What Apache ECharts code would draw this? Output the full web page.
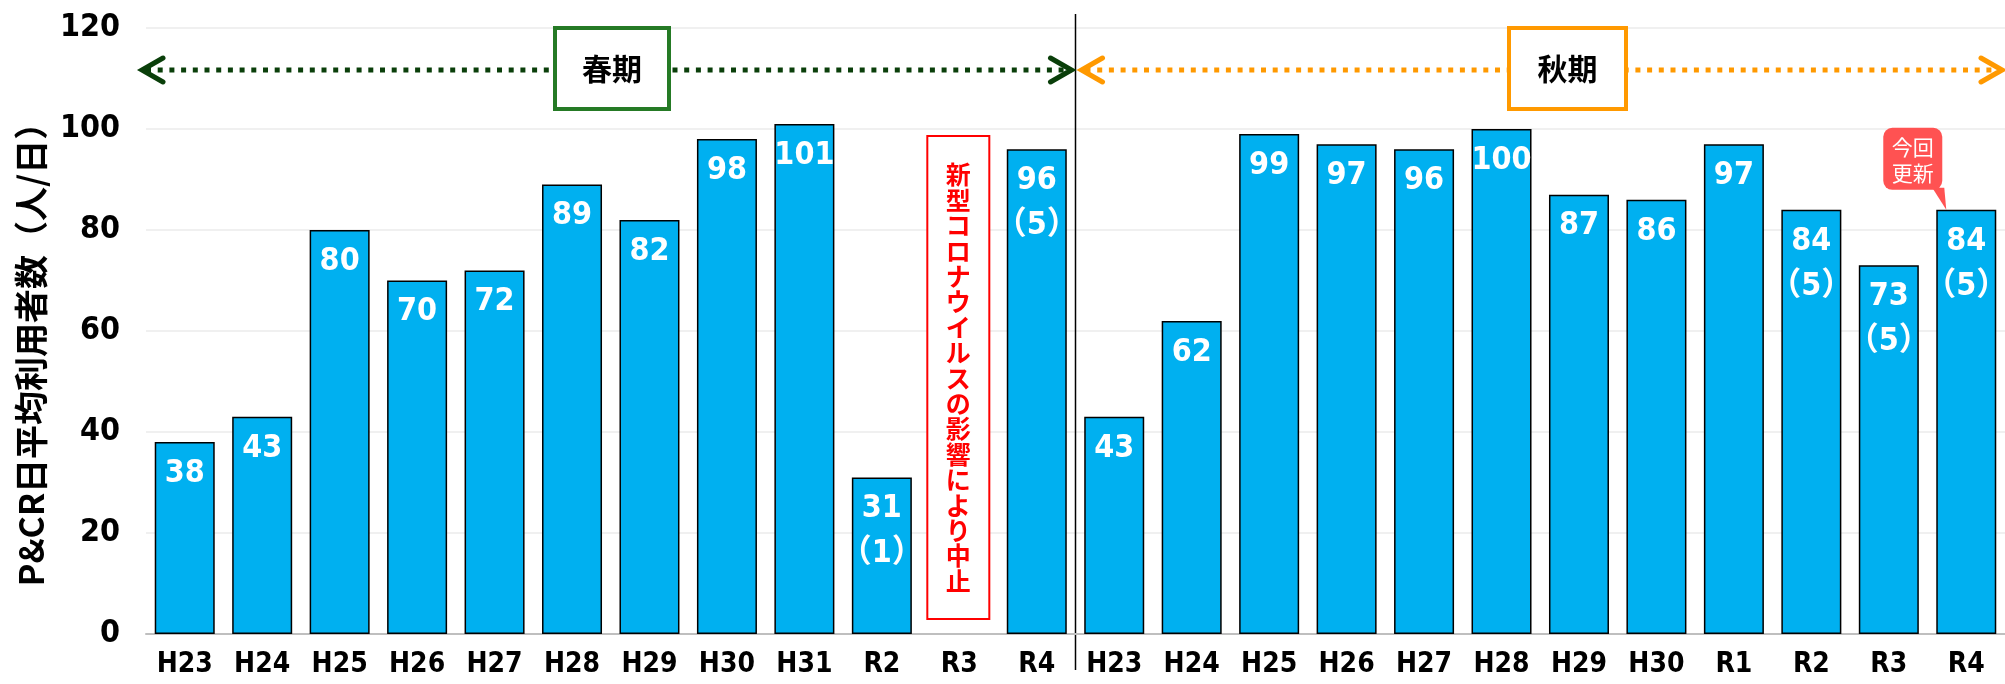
<!DOCTYPE html>
<html>
<head>
<meta charset="utf-8">
<script src="https://cdn.jsdelivr.net/npm/echarts@6/dist/echarts.min.js"></script>
<style>
  html, body { margin: 0; padding: 0; background: #fff; }
  #main { width: 2005px; height: 684px; }
</style>
</head>
<body>
<div id="main"></div>
<script>
// 春期 / 秋期 の年度
const springYears = ['H23', 'H24', 'H25', 'H26', 'H27', 'H28', 'H29', 'H30', 'H31', 'R2', 'R3', 'R4'];
const autumnYears = ['H23', 'H24', 'H25', 'H26', 'H27', 'H28', 'H29', 'H30', 'R1', 'R2', 'R3', 'R4'];

// 日平均利用者数（R3春期は中止）
const springValues = [38, 43, 80, 70, 72, 89, 82, 98, 101, 31, null, 96];
const autumnValues = [43, 62, 99, 97, 96, 100, 87, 86, 97, 84, 73, 84];

// 括弧内の補足
const springNotes = ['', '', '', '', '', '', '', '', '', '（1）', '', '（5）'];
const autumnNotes = ['', '', '', '', '', '', '', '', '', '（5）', '（5）', '（5）'];

const yTicks = [0, 20, 40, 60, 80, 100, 120];

const categories = springYears.concat(autumnYears);
const values = springValues.concat(autumnValues);
const notes = springNotes.concat(autumnNotes);

const NUM = "'DejaVu Sans Condensed', Roboto, 'Noto Sans CJK JP', sans-serif";
const CJK = "'Noto Sans CJK JP', sans-serif";

const chart = echarts.init(document.getElementById('main'));

const option = {
  animation: false,
  textStyle: { fontFamily: NUM },
  grid: { left: 146, right: -11, top: 28, bottom: 50, containLabel: false },
  xAxis: {
    type: 'category',
    data: categories,
    axisTick: { show: false },
    axisLine: { lineStyle: { color: '#bfbfbf', width: 2 } },
    axisLabel: {
      interval: 0,
      color: '#000',
      fontSize: 28,
      fontWeight: 'bold',
      fontFamily: NUM,
      margin: 17
    }
  },
  yAxis: {
    type: 'value',
    min: yTicks[0],
    max: yTicks[yTicks.length - 1],
    interval: 20,
    axisLine: { show: false },
    axisTick: { show: false },
    axisLabel: {
      color: '#000',
      fontSize: 32,
      fontWeight: 'bold',
      fontFamily: NUM,
      margin: 26
    },
    splitLine: { lineStyle: { color: '#ebebeb', width: 1.5 } }
  },
  series: [{
    type: 'bar',
    data: values,
    barWidth: 60,
    itemStyle: { color: '#00B0F0', borderColor: '#000', borderWidth: 1.5 },
    label: {
      show: true,
      position: 'insideTop',
      distance: 9,
      color: '#fff',
      fontSize: 32,
      fontWeight: 'bold',
      fontFamily: NUM,
      lineHeight: 45,
      formatter: function (p) {
        const n = notes[p.dataIndex];
        return n ? p.value + '\n' + n : String(p.value);
      }
    }
  }]
};

chart.setOption(option);

// 注記類（矢印・枠・吹き出し）
const px = function (i, v) {
  return chart.convertToPixel({ xAxisIndex: 0, yAxisIndex: 0 }, [i, v]);
};
const sepX = (px(11, 0)[0] + px(12, 0)[0]) / 2;
const arrowY = 70;

function dottedArrow(x1, x2, color) {
  return [
    {
      type: 'line',
      shape: { x1: x1 + 4, y1: arrowY, x2: x2 - 4, y2: arrowY },
      style: { stroke: color, lineWidth: 5, lineDash: [5, 6.7] }
    },
    {
      type: 'polyline',
      shape: { points: [[x1 + 21, arrowY - 12], [x1, arrowY], [x1 + 21, arrowY + 12]] },
      style: { stroke: color, lineWidth: 5, fill: null, lineCap: 'round' }
    },
    {
      type: 'polyline',
      shape: { points: [[x2 - 21, arrowY - 12], [x2, arrowY], [x2 - 21, arrowY + 12]] },
      style: { stroke: color, lineWidth: 5, fill: null, lineCap: 'round' }
    }
  ];
}

function seasonBox(x1, x2, color, text) {
  return [
    {
      type: 'rect',
      shape: { x: x1, y: 28, width: x2 - x1, height: 81 },
      style: { fill: '#fff', stroke: color, lineWidth: 4 }
    },
    {
      type: 'text',
      x: (x1 + x2) / 2, y: 69,
      style: {
        text: text, fill: '#000', align: 'center', verticalAlign: 'middle',
        font: 'bold 30px ' + CJK
      }
    }
  ];
}

const covidX = px(10, 0)[0];
const covidText = '新型コロナウイルスの影響により中止';

const tip = px(23, autumnValues[11]);
const tipX = tip[0] - 20;
const tipY = tip[1];

const elements = []
  .concat([{
    type: 'line',
    shape: { x1: sepX, y1: 14, x2: sepX, y2: 670 },
    style: { stroke: '#000', lineWidth: 1.5 }
  }])
  .concat(dottedArrow(142, sepX - 4, '#0a3f0a'))
  .concat(dottedArrow(sepX + 6, 2002, '#FF9900'))
  .concat(seasonBox(555, 669, '#257a25', '春期'))
  .concat(seasonBox(1509, 1626, '#FF9900', '秋期'))
  .concat([
    {
      type: 'rect',
      shape: { x: covidX - 32, y: 136, width: 62, height: 483 },
      style: { fill: '#fff', stroke: '#ff0000', lineWidth: 2 }
    },
    {
      type: 'text',
      x: covidX - 1, y: 378,
      style: {
        text: covidText.split('').join('\n'),
        fill: '#ff0000', align: 'center', verticalAlign: 'middle',
        font: 'bold 25px ' + CJK, lineHeight: 25.4
      }
    },
    {
      type: 'text',
      x: 31, y: 346, rotation: Math.PI / 2,
      style: {
        text: 'P&CR日平均利用者数（人/日）',
        fill: '#000', align: 'center', verticalAlign: 'middle',
        font: 'bold 34px ' + CJK
      }
    },
    {
      type: 'polygon',
      shape: { points: [[tipX - 14, tipY - 22], [tipX - 2, tipY - 22], [tipX, tipY]] },
      style: { fill: '#ff5252' }
    },
    {
      type: 'rect',
      shape: { x: tipX - 63, y: tipY - 82, width: 59, height: 62, r: 9 },
      style: { fill: '#ff5252' }
    },
    {
      type: 'text',
      x: tipX - 33.5, y: tipY - 50,
      style: {
        text: '今回\n更新', fill: '#fff', align: 'center', verticalAlign: 'middle',
        font: '21px ' + CJK, lineHeight: 26
      }
    }
  ]);

chart.setOption({ graphic: { elements: elements } });
</script>
</body>
</html>
